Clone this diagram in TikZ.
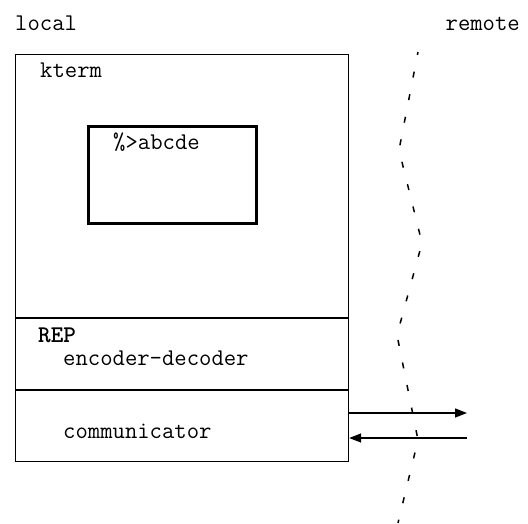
\documentclass[tikz,border=0pt]{standalone}
\usepackage{fontspec}
\usetikzlibrary{arrows.meta}
\begin{document}
\begin{tikzpicture}[x=1pt,y=-1pt,
  txt/.style={anchor=base west,inner sep=0pt,font=\ttfamily\fontsize{24}{28}\selectfont},
  frame/.style={draw,line width=1.2pt,rectangle,inner sep=0pt,anchor=north west},
  screen/.style={draw,line width=2.6pt,rectangle,inner sep=0pt,anchor=north west},
  divider/.style={line width=1.2pt},
  link/.style={line width=1.4pt,-{Triangle[length=12pt,width=9pt]}},
  boundary/.style={line width=1.5pt,dash pattern=on 6pt off 17pt,dash phase=3pt}]
\useasboundingbox (0,0) rectangle (528,523);

% host machine
\node[frame,minimum width=333pt,minimum height=407pt] (host) at (15,54) {};
\coordinate (rep) at (15,318);
\coordinate (comm) at (15,390);
\draw[divider] (rep) -- (rep -| host.east);
\draw[divider] (comm) -- (comm -| host.east);

% terminal window
\node[screen,minimum width=168pt,minimum height=97pt] (win) at (87,125) {};

% labels
\node[txt] (local) at (15,30) {local};
\node[txt,anchor=base east] (remote) at (520,30) {remote};
\node[txt] (kterm) at (40,77) {kterm};
\node[txt] (prompt) at (113,149) {\%>abcde};
\node[txt,font=\ttfamily\bfseries\fontsize{24}{28}\selectfont] (replbl) at (38,342) {REP};
\node[txt] (codec) at (63,365) {encoder-decoder};
\node[txt] (commlbl) at (63,438) {communicator};

% network boundary
\draw[boundary] (418,52) -- (399,150) -- (422,243) -- (397,335) -- (418,440) -- (398,523);

% traffic
\coordinate (sendend) at (467,413);
\coordinate (recvstart) at (467,438);
\draw[link] (sendend -| host.east) -- (sendend);
\draw[link] (recvstart) -- (recvstart -| host.east);
\end{tikzpicture}
\end{document}
